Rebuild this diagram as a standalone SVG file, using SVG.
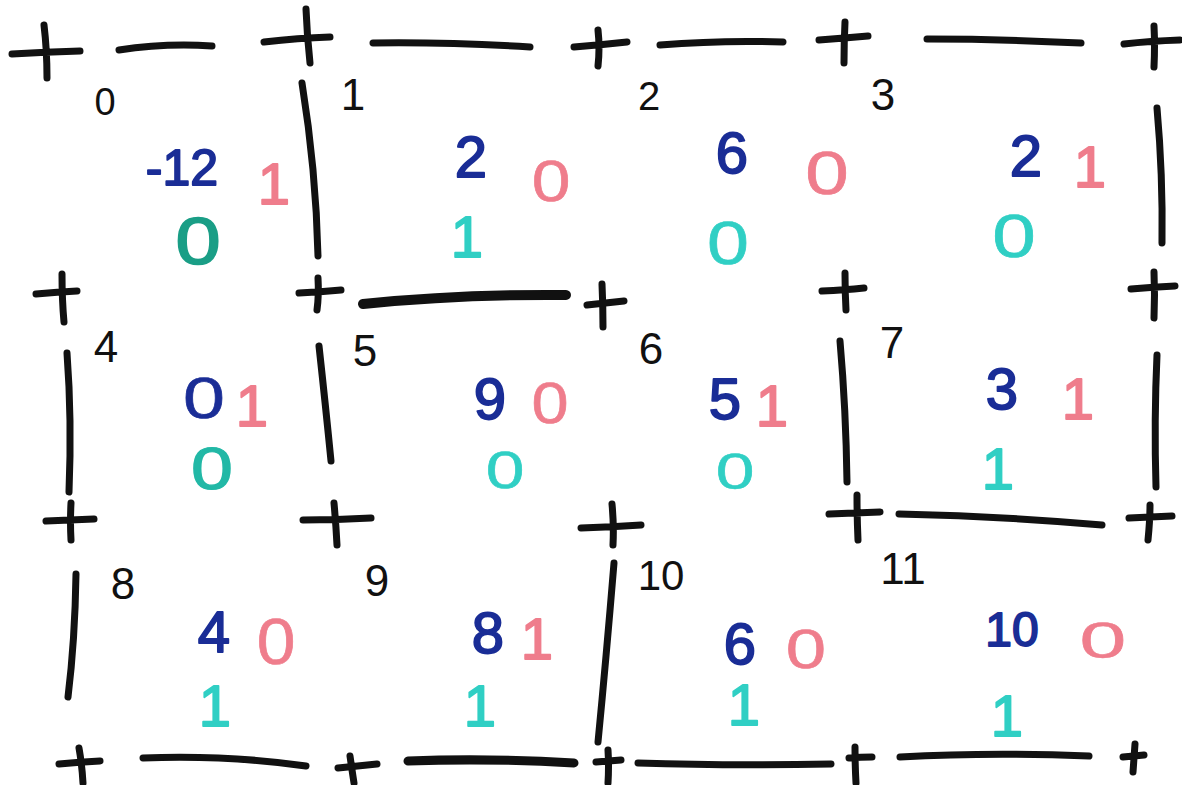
<svg xmlns="http://www.w3.org/2000/svg" width="1182" height="785" viewBox="0 0 1182 785">
<style>
.w{stroke:#111;stroke-width:7;stroke-linecap:round;fill:none}
.p{stroke:#111;stroke-width:7;stroke-linecap:round;fill:none}
.id{font-family:"Liberation Sans",sans-serif;font-size:44px;fill:#111;text-anchor:middle}
.v{font-family:"Liberation Sans",sans-serif;font-size:58px;text-anchor:middle;stroke-width:1.8;stroke-linejoin:round}
.z{stroke-width:0.6}
.b{fill:#1a2d96;stroke:#1a2d96}
.r{fill:#ef7d8c;stroke:#ef7d8c}
.g{fill:#30cfc4;stroke:#30cfc4}
.gm{fill:#22b8a6;stroke:#22b8a6}
.gd{fill:#1a9e86;stroke:#1a9e86}
</style>
<rect width="1182" height="785" fill="#fff"/>
<g id="corners">
<path class="p" d="M12 54Q45 52 80 51M44 25Q47 50 47 78"/>
<path class="p" d="M264 42Q298 38 330 37M306 9Q307 35 310 63"/>
<path class="p" d="M574 47Q600 45 627 42M598 30Q600 48 598 66"/>
<path class="p" d="M819 40Q845 38 868 36M845 22Q844 42 844 63"/>
<path class="p" d="M1124 44Q1150 41 1180 40M1154 26Q1155 45 1154 67"/>
<path class="p" d="M36 294Q58 292 77 291M62 274Q62 300 64 322"/>
<path class="p" d="M299 293Q320 292 341 290M318 278Q319 295 317 310"/>
<path class="p" d="M587 305Q605 303 624 301M602 284Q603 305 603 327"/>
<path class="p" d="M822 291Q845 290 864 288M845 273Q845 292 846 310"/>
<path class="p" d="M1131 289Q1154 287 1175 286M1154 272Q1155 295 1154 318"/>
<path class="p" d="M46 521Q70 520 94 519M71 503Q70 522 71 540"/>
<path class="p" d="M303 520Q336 520 371 518M334 503Q336 525 337 545"/>
<path class="p" d="M581 528Q612 527 641 525M612 504Q614 525 613 545"/>
<path class="p" d="M829 514Q855 513 880 512M857 495Q857 518 858 540"/>
<path class="p" d="M1129 518Q1150 517 1172 516M1150 505Q1150 520 1148 540"/>
<path class="p" d="M59 764Q80 762 100 761M79 748Q82 765 83 783"/>
<path class="p" d="M338 768Q357 766 377 764M350 756Q352 770 354 783"/>
<path class="p" d="M596 762Q608 761 621 760M608 750Q609 767 608 783"/>
<path class="p" d="M849 758Q861 757 872 757M855 747Q855 765 856 783"/>
<path class="p" d="M1123 757Q1134 756 1144 755M1135 744Q1134 758 1133 772"/>
</g>
<g id="walls">
<path class="w" d="M119 50Q165 43 212 46"/>
<path class="w" d="M373 43Q450 42 530 47"/>
<path class="w" d="M660 45Q720 40 783 42"/>
<path class="w" d="M927 39Q1000 39 1081 43"/>
<path class="w" d="M363 304Q460 294 566 295" style="stroke-width:10"/>
<path class="w" d="M899 514Q1000 516 1102 525"/>
<path class="w" d="M143 758Q230 755 306 766"/>
<path class="w" d="M408 761Q490 758 574 763" style="stroke-width:9"/>
<path class="w" d="M638 763Q730 766 831 764"/>
<path class="w" d="M900 757Q990 752 1089 756"/>
<path class="w" d="M302 83Q316 170 318 256"/>
<path class="w" d="M1157 108Q1163 175 1162 243"/>
<path class="w" d="M67 353Q72 420 69 492"/>
<path class="w" d="M319 346Q326 410 331 461"/>
<path class="w" d="M840 341Q846 410 847 482"/>
<path class="w" d="M1157 355Q1154 420 1156 487"/>
<path class="w" d="M76 574Q75 640 68 697"/>
<path class="w" d="M614 563Q606 660 598 742"/>
</g>
<g id="cell0"><text class="id" x="105" y="115" style="font-size:38px">0</text><text class="v b" x="182" y="185" style="font-size:50px">-12</text><text class="v r" x="274" y="204">1</text><text class="v gd" transform="translate(198,264) scale(1.4,1.15)" style="stroke-width:1.5">0</text></g>
<g id="cell1"><text class="id" x="353" y="110">1</text><text class="v b" x="471" y="177">2</text><text class="v r z" transform="translate(551,201) scale(1.2,1)">0</text><text class="v g" x="467" y="257">1</text></g>
<g id="cell2"><text class="id" x="649" y="110" style="font-size:40px">2</text><text class="v b" x="732" y="173">6</text><text class="v r z" transform="translate(827,194) scale(1.35,1.05)">0</text><text class="v g z" transform="translate(728,264) scale(1.3,1.05)">0</text></g>
<g id="cell3"><text class="id" x="883" y="110">3</text><text class="v b" x="1026" y="176">2</text><text class="v r" x="1090" y="187">1</text><text class="v g z" transform="translate(1014,257) scale(1.35,1.05)">0</text></g>
<g id="cell4"><text class="id" x="106" y="362">4</text><text class="v b z" transform="translate(204,418) scale(1.3,1)">0</text><text class="v r" x="252" y="426">1</text><text class="v gm z" transform="translate(212,489) scale(1.3,1.03)" style="stroke-width:1.2">0</text></g>
<g id="cell5"><text class="id" x="365" y="366">5</text><text class="v b" x="490" y="419">9</text><text class="v r z" transform="translate(550,423) scale(1.15,1)">0</text><text class="v g z" transform="translate(505,488) scale(1.2,0.9)">0</text></g>
<g id="cell6"><text class="id" x="651" y="364">6</text><text class="v b" x="725" y="419">5</text><text class="v r" x="772" y="426">1</text><text class="v g z" transform="translate(735,489) scale(1.2,0.85)">0</text></g>
<g id="cell7"><text class="id" x="892" y="358">7</text><text class="v b" x="1002" y="409">3</text><text class="v r" x="1078" y="419">1</text><text class="v g" x="998" y="489">1</text></g>
<g id="cell8"><text class="id" x="123" y="599">8</text><text class="v b" x="214" y="652">4</text><text class="v r z" transform="translate(276,664) scale(1.2,1.12)">0</text><text class="v g" x="215" y="726">1</text></g>
<g id="cell9"><text class="id" x="377" y="596">9</text><text class="v b" x="488" y="653">8</text><text class="v r" x="537" y="659">1</text><text class="v g" x="480" y="726">1</text></g>
<g id="cell10"><text class="id" x="661" y="590" style="font-size:42px">10</text><text class="v b" x="740" y="664">6</text><text class="v r z" transform="translate(806,668) scale(1.25,0.95)">0</text><text class="v g" x="744" y="725">1</text></g>
<g id="cell11"><text class="id" x="903" y="584">11</text><text class="v b" x="1012" y="646" style="font-size:48px">10</text><text class="v r z" transform="translate(1103,658) scale(1.45,0.85)">0</text><text class="v g" x="1007" y="736">1</text></g>
</svg>
